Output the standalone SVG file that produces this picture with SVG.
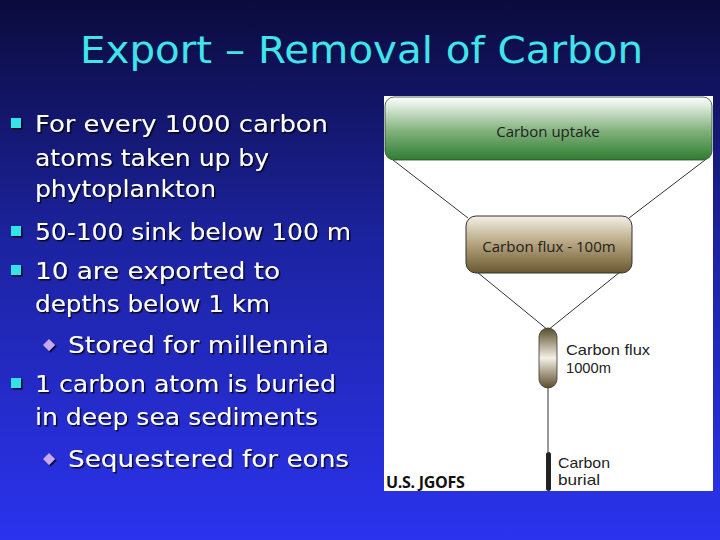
<svg xmlns="http://www.w3.org/2000/svg" width="720" height="540" viewBox="0 0 720 540">
<defs>
<linearGradient id="bg" x1="0" y1="0" x2="0" y2="1">
<stop offset="0" stop-color="#0b0b3c"/>
<stop offset="0.45" stop-color="#1c23a0"/>
<stop offset="1" stop-color="#2b33ee"/>
</linearGradient>
<linearGradient id="green" x1="0" y1="0" x2="0" y2="1">
<stop offset="0" stop-color="#ffffff"/>
<stop offset="0.55" stop-color="#7fb07a"/>
<stop offset="1" stop-color="#2f7d32"/>
</linearGradient>
<linearGradient id="brown" x1="0" y1="0" x2="0" y2="1">
<stop offset="0" stop-color="#f4f0e6"/>
<stop offset="0.5" stop-color="#b3a27c"/>
<stop offset="1" stop-color="#6a5830"/>
</linearGradient>
<linearGradient id="pill" x1="0" y1="0" x2="0" y2="1">
<stop offset="0" stop-color="#5a4c2c"/>
<stop offset="0.5" stop-color="#f4f0e4"/>
<stop offset="1" stop-color="#5a4c2c"/>
</linearGradient>
<filter id="sh" x="-5%" y="-20%" width="110%" height="140%">
<feDropShadow dx="1.5" dy="1.5" stdDeviation="0.6" flood-color="#000" flood-opacity="0.8"/>
</filter>
</defs>
<style>
.t{font-family:"Comic Sans MS","DejaVu Sans",sans-serif;fill:#ffffff;font-size:23px}
.title{font-family:"Comic Sans MS","DejaVu Sans",sans-serif;fill:#3ee6ea;font-size:38px}
.d{font-family:"Open Sans","Noto Sans",sans-serif;fill:#222;font-size:15px}
.s{font-family:"Liberation Sans",Arial,sans-serif;fill:#222;font-size:15px}
.ln{stroke:#333;stroke-width:1;fill:none}
.sq{fill:#33e4e8}
.dm{fill:#c8a8f0}
</style>
<rect width="720" height="540" fill="url(#bg)"/>
<text class="title" x="80" y="63" textLength="563" lengthAdjust="spacingAndGlyphs">Export – Removal of Carbon</text>
<g id="bullets" filter="url(#sh)">
<rect class="sq" x="11" y="118" width="10" height="10"/>
<rect class="sq" x="11" y="226" width="10" height="10"/>
<rect class="sq" x="11" y="265" width="10" height="10"/>
<rect class="sq" x="11" y="378" width="10" height="10"/>
<path class="dm" d="M49 339 L55 345 L49 351 L43 345 Z"/>
<path class="dm" d="M49 453 L55 459 L49 465 L43 459 Z"/>
<text class="t" x="35" y="132" textLength="293" lengthAdjust="spacingAndGlyphs">For every 1000 carbon</text>
<text class="t" x="35" y="166" textLength="234" lengthAdjust="spacingAndGlyphs">atoms taken up by</text>
<text class="t" x="35" y="197" textLength="181" lengthAdjust="spacingAndGlyphs">phytoplankton</text>
<text class="t" x="35" y="240" textLength="316" lengthAdjust="spacingAndGlyphs">50-100 sink below 100 m</text>
<text class="t" x="35" y="279" textLength="245" lengthAdjust="spacingAndGlyphs">10 are exported to</text>
<text class="t" x="35" y="312" textLength="235" lengthAdjust="spacingAndGlyphs">depths below 1 km</text>
<text class="t" x="68" y="353" textLength="261" lengthAdjust="spacingAndGlyphs">Stored for millennia</text>
<text class="t" x="35" y="392" textLength="301" lengthAdjust="spacingAndGlyphs">1 carbon atom is buried</text>
<text class="t" x="35" y="425" textLength="283" lengthAdjust="spacingAndGlyphs">in deep sea sediments</text>
<text class="t" x="68" y="467" textLength="281" lengthAdjust="spacingAndGlyphs">Sequestered for eons</text>
</g>
<rect x="384" y="96" width="329" height="395" fill="#ffffff"/>
<g id="connectors">
<line class="ln" x1="393" y1="160" x2="468" y2="218"/>
<line class="ln" x1="705" y1="160" x2="629" y2="218"/>
<line class="ln" x1="477" y1="272" x2="548" y2="330"/>
<line class="ln" x1="620" y1="272" x2="548" y2="330"/>
<line class="ln" x1="548" y1="388" x2="548" y2="452"/>
</g>
<g id="uptake">
<rect x="385" y="97" width="327" height="63" rx="9" fill="url(#green)" stroke="#2a4a2a" stroke-width="0.8"/>
<text class="d" x="548" y="137" text-anchor="middle">Carbon uptake</text>
</g>
<g id="flux100">
<rect x="466" y="216" width="166" height="57" rx="10" fill="url(#brown)" stroke="#333" stroke-width="1"/>
<text class="d" x="549" y="252" text-anchor="middle">Carbon flux - 100m</text>
</g>
<g id="flux1000">
<rect x="539" y="328" width="18" height="60" rx="9" fill="url(#pill)" stroke="#333" stroke-width="0.8"/>
<text class="s" x="566" y="355" textLength="84" lengthAdjust="spacingAndGlyphs">Carbon flux</text>
<text class="s" x="566" y="373" textLength="45" lengthAdjust="spacingAndGlyphs">1000m</text>
</g>
<g id="burial">
<rect x="546" y="452" width="5" height="39" rx="2.5" fill="#222"/>
<text class="s" x="558" y="468" textLength="52" lengthAdjust="spacingAndGlyphs">Carbon</text>
<text class="s" x="558" y="485" textLength="42" lengthAdjust="spacingAndGlyphs">burial</text>
</g>
<text x="386" y="488" font-family="Open Sans, Noto Sans, sans-serif" font-weight="bold" font-size="16" fill="#111" letter-spacing="-0.3">U.S. JGOFS</text>
</svg>
